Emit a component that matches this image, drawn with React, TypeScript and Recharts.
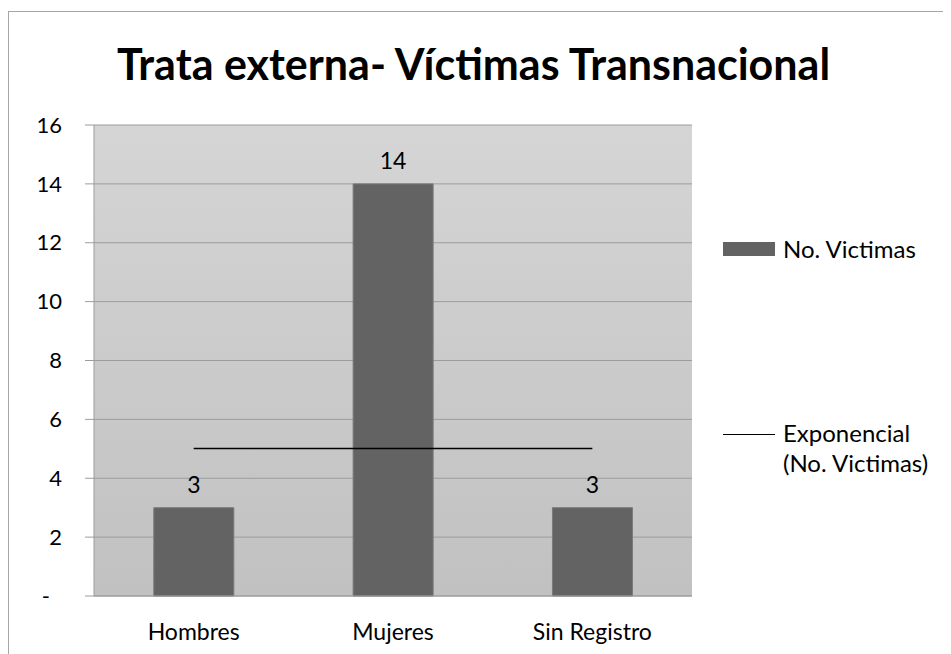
import { BarChart, Bar, Line, XAxis, YAxis, CartesianGrid, LabelList } from "recharts"

const CATEGORIES = ["Hombres", "Mujeres", "Sin Registro"]
const VICTIMAS = [3, 14, 3]
// exponential trendline fitted to the values above (flat, ~5.01)
const TENDENCIA = [5.01, 5.01, 5.01]
const Y_TICKS = [0, 2, 4, 6, 8, 10, 12, 14, 16]
const EDGE_TICKS = [0, 1, 2, 3]

const FONT = "Lato, 'Open Sans', sans-serif"
const BAR_COLOR = "#636363"
const GRID_COLOR = "#9c9c9c"

const data = CATEGORIES.map((name, i) => ({
  name,
  victimas: VICTIMAS[i],
  tendencia: TENDENCIA[i],
}))

function YTick(props: any) {
  const { x, y, payload } = props
  const v = payload.value
  return (
    <text x={v === 0 ? x - 12 : x} y={y} dy="0.35em" textAnchor="end" fontSize={22} fill="#000" fontFamily={FONT}>
      {v === 0 ? "-" : v}
    </text>
  )
}

function LegendBox() {
  return (
    <div style={{ position: "absolute", left: 714, top: 222, fontFamily: FONT, fontSize: 24, color: "#000" }}>
      <div style={{ position: "absolute", left: 0, top: 0, display: "flex", alignItems: "center", whiteSpace: "nowrap" }}>
        <span style={{ width: 52, height: 14, background: BAR_COLOR, display: "inline-block", marginRight: 8 }} />
        <span>No. Victimas</span>
      </div>
      <div style={{ position: "absolute", left: 0, top: 184, display: "flex", alignItems: "flex-start", whiteSpace: "nowrap" }}>
        <span style={{ width: 52, height: 0, borderTop: "1.5px solid #000", display: "inline-block", marginRight: 8, marginTop: 16 }} />
        <span style={{ lineHeight: "30px" }}>
          Exponencial
          <br />
          (No. Victimas)
        </span>
      </div>
    </div>
  )
}

export default function App() {
  return (
    <div
      style={{
        marginTop: 3,
        width: 941,
        height: 660,
        border: "1px solid #a6a6a6",
        position: "relative",
        background: "#fff",
      }}
    >
      <div
        style={{
          position: "absolute",
          top: 26,
          left: 0,
          width: 929,
          textAlign: "center",
          fontFamily: FONT,
          fontWeight: 700,
          fontSize: 43,
          color: "#000",
        }}
      >
        Trata externa- Víctimas Transnacional
      </div>
      <BarChart
        width={941}
        height={640}
        data={data}
        margin={{ top: 113, right: 258, left: 0, bottom: 6 }}
        barCategoryGap="30%"
      >
        <defs>
          <linearGradient id="plotBg" x1="0" y1="0" x2="0" y2="1">
            <stop offset="0%" stopColor="#d5d5d5" />
            <stop offset="100%" stopColor="#c1c1c1" />
          </linearGradient>
        </defs>
        <CartesianGrid vertical={false} stroke={GRID_COLOR} fill="url(#plotBg)" fillOpacity={1} yAxisId="l" />
        <XAxis
          xAxisId="a_edge"
          type="number"
          domain={[0, 3]}
          ticks={EDGE_TICKS}
          tick={false}
          tickSize={9}
          axisLine={{ stroke: GRID_COLOR }}
          tickLine={{ stroke: GRID_COLOR }}
          height={10}
        />
        <XAxis
          xAxisId="b_cat"
          dataKey="name"
          axisLine={false}
          tickLine={false}
          tickMargin={12}
          height={40}
          tick={{ fontSize: 23, fill: "#000", fontFamily: FONT }}
        />
        <YAxis
          yAxisId="l"
          domain={[0, 16]}
          ticks={Y_TICKS}
          width={85}
          tickSize={9}
          tickMargin={23}
          axisLine={{ stroke: GRID_COLOR }}
          tickLine={{ stroke: GRID_COLOR }}
          tick={<YTick />}
        />
        <YAxis yAxisId="r" orientation="right" domain={[0, 16]} width={0} tick={false} tickLine={false} axisLine={{ stroke: GRID_COLOR }} />
        <Bar
          xAxisId="b_cat"
          yAxisId="l"
          dataKey="victimas"
          name="No. Victimas"
          fill={BAR_COLOR}
          stroke="#7a7a7a"
          strokeWidth={1}
          isAnimationActive={false}
        >
          <LabelList dataKey="victimas" position="top" offset={15} fontSize={23} fill="#000" fontFamily={FONT} />
        </Bar>
        <Line
          xAxisId="b_cat"
          yAxisId="l"
          dataKey="tendencia"
          name="Exponencial (No. Victimas)"
          stroke="#000"
          strokeWidth={1.5}
          dot={false}
          activeDot={false}
          isAnimationActive={false}
        />
      </BarChart>
      <LegendBox />
    </div>
  )
}
